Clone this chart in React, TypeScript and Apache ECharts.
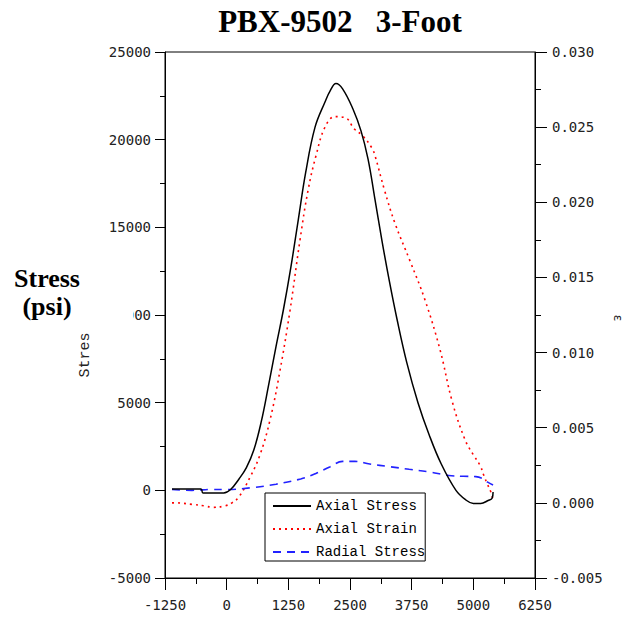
import React, { useEffect, useRef } from "react";
import * as echarts from "echarts";

const axialStress: [number, number][] = [
  [-1108, 80], [-520, 80], [-480, -150], [-60, -150], [80, 50], [250, 650], [400, 1300],
  [550, 2300], [700, 3900], [850, 6000], [1000, 8200], [1150, 10300], [1300, 12700],
  [1450, 15400], [1600, 18100], [1790, 20700], [1993, 22150], [2100, 22800], [2216, 23200],
  [2350, 22900], [2560, 21750], [2723, 20500], [2865, 18900], [3000, 16700], [3150, 14200],
  [3300, 11900], [3450, 9800], [3650, 7300], [3878, 5000], [4100, 3200], [4350, 1500],
  [4648, 0], [4850, -550], [5000, -750], [5150, -750], [5300, -580], [5380, -450], [5400, -100],
];

const axialStrain: [number, number][] = [
  [-1108, 0.0], [-1027, 0.0], [-703, -0.0001], [-450, -0.0002], [-277, -0.0003],
  [-34, -0.0002], [108, 0.0], [250, 0.0004],
  [473, 0.0017], [676, 0.0032], [878, 0.0055], [1081, 0.0088], [1284, 0.0128],
  [1487, 0.0175], [1650, 0.0208], [1811, 0.0231], [1993, 0.025], [2196, 0.0257],
  [2419, 0.0256], [2581, 0.0249], [2764, 0.0244], [2946, 0.0236], [3007, 0.0231],
  [3200, 0.0208], [3412, 0.0186], [3716, 0.0161], [4020, 0.0135], [4324, 0.0102],
  [4567, 0.0068], [4831, 0.0042], [5000, 0.0032], [5135, 0.0025], [5216, 0.0018],
  [5277, 0.0013], [5358, 0.0007], [5399, 0.0002],
];

const radialStress: [number, number][] = [
  [-1108, 50], [-700, 0], [-300, 50], [0, 50], [500, 150], [1000, 350], [1500, 650],
  [1800, 950], [2100, 1350], [2350, 1650], [2600, 1650], [2900, 1500], [3300, 1350],
  [3700, 1200], [4100, 1050], [4500, 850], [4800, 800], [5050, 780], [5200, 650],
  [5300, 450], [5400, 300],
];

const seriesNames = ["Axial Stress", "Axial Strain", "Radial Stress"];
const titleText = "PBX-9502\u00a0\u00a0\u00a03-Foot";
const yTitle = "Stress\n(psi)";

const tickFont = "DejaVu Sans Mono";
const monoFont = "Liberation Mono";

export default function App() {
  const ref = useRef<HTMLDivElement>(null);
  useEffect(() => {
    if (!ref.current) return;
    const chart = echarts.init(ref.current, undefined, { renderer: "svg" });
    const axisLine = { show: true, onZero: false, lineStyle: { color: "#000", width: 1 } };
    const label = { color: "#222", fontFamily: tickFont, fontSize: 14 };
    chart.setOption({
      animation: false,
      backgroundColor: "#fff",
      grid: {
        left: 165, top: 52, right: 92, bottom: 41,
        show: true, borderColor: "#000", borderWidth: 1, backgroundColor: "transparent",
      },
      xAxis: {
        type: "value", min: -1250, max: 6250, interval: 1250,
        axisLine, splitLine: { show: false },
        axisTick: { show: true, inside: false, length: 12, lineStyle: { color: "#000" } },
        minorTick: { show: true, splitNumber: 2, length: 6, lineStyle: { color: "#000" } },
        axisLabel: { ...label, margin: 20, formatter: (v: number) => String(v) },
      },
      yAxis: [
        {
          type: "value", min: -5000, max: 25000, interval: 5000, position: "left",
          axisLine, splitLine: { show: false },
          axisTick: { show: true, length: 10, lineStyle: { color: "#000" } },
          minorTick: { show: true, splitNumber: 2, length: 5, lineStyle: { color: "#000" } },
          axisLabel: { ...label, margin: 14, formatter: (v: number) => String(v) },
        },
        {
          type: "value", min: -0.005, max: 0.03, interval: 0.005, position: "right",
          axisLine, splitLine: { show: false },
          axisTick: { show: true, length: 12, lineStyle: { color: "#000" } },
          minorTick: { show: true, splitNumber: 2, length: 6, lineStyle: { color: "#000" } },
          axisLabel: { ...label, margin: 17, formatter: (v: number) => v.toFixed(3) },
        },
      ],
      legend: {
        orient: "vertical", left: 265, top: 493,
        data: seriesNames,
        itemWidth: 38, itemHeight: 14, itemGap: 9,
        padding: [6, 0, 2, 7],
        borderColor: "#000", borderWidth: 1, backgroundColor: "#fff",
        itemStyle: { opacity: 0 },
        textStyle: { fontFamily: monoFont, fontSize: 14, color: "#000" },
      },
      series: [
        {
          name: seriesNames[0], type: "line", yAxisIndex: 0, data: axialStress,
          symbol: "none", smooth: 0.4, lineStyle: { color: "#000", width: 1.5 },
          itemStyle: { color: "#000" }, z: 3,
        },
        {
          name: seriesNames[1], type: "line", yAxisIndex: 1, data: axialStrain,
          symbol: "none", smooth: 0.4,
          lineStyle: { color: "#ff0000", width: 1.6, type: [2, 4] },
          itemStyle: { color: "#ff0000" }, z: 2,
        },
        {
          name: seriesNames[2], type: "line", yAxisIndex: 0, data: radialStress,
          symbol: "none", smooth: 0.4,
          lineStyle: { color: "#2222ff", width: 1.6, type: [8, 6] },
          itemStyle: { color: "#2222ff" }, z: 2,
        },
      ],
      graphic: [
        {
          type: "text", x: 340, y: 21, z: 100,
          style: {
            text: titleText, fill: "#000", font: "bold 31px 'Liberation Serif'",
            textAlign: "center", textVerticalAlign: "middle",
          },
        },
        { type: "rect", z: 90, shape: { x: 95, y: 305, width: 38, height: 20 }, style: { fill: "#fff" } },
        {
          type: "text", x: 47, y: 292, z: 100,
          style: {
            text: yTitle, fill: "#000", font: "bold 26px 'Liberation Serif'",
            lineHeight: 28, textAlign: "center", textVerticalAlign: "middle",
          },
        },
        {
          type: "text", x: 85, y: 355, rotation: Math.PI / 2, z: 100,
          style: {
            text: "Stres", fill: "#222", font: "15px 'Liberation Mono'",
            textAlign: "center", textVerticalAlign: "middle",
          },
        },
        {
          type: "text", x: 618, y: 318, rotation: -Math.PI / 2, z: 100,
          style: {
            text: "ε", fill: "#222", font: "12px 'DejaVu Sans'",
            textAlign: "center", textVerticalAlign: "middle",
          },
        },
      ],
    });
    return () => chart.dispose();
  }, []);
  return (
    <div
      ref={ref}
      style={{ position: "fixed", left: 0, top: 0, width: 627, height: 619 }}
    />
  );
}
